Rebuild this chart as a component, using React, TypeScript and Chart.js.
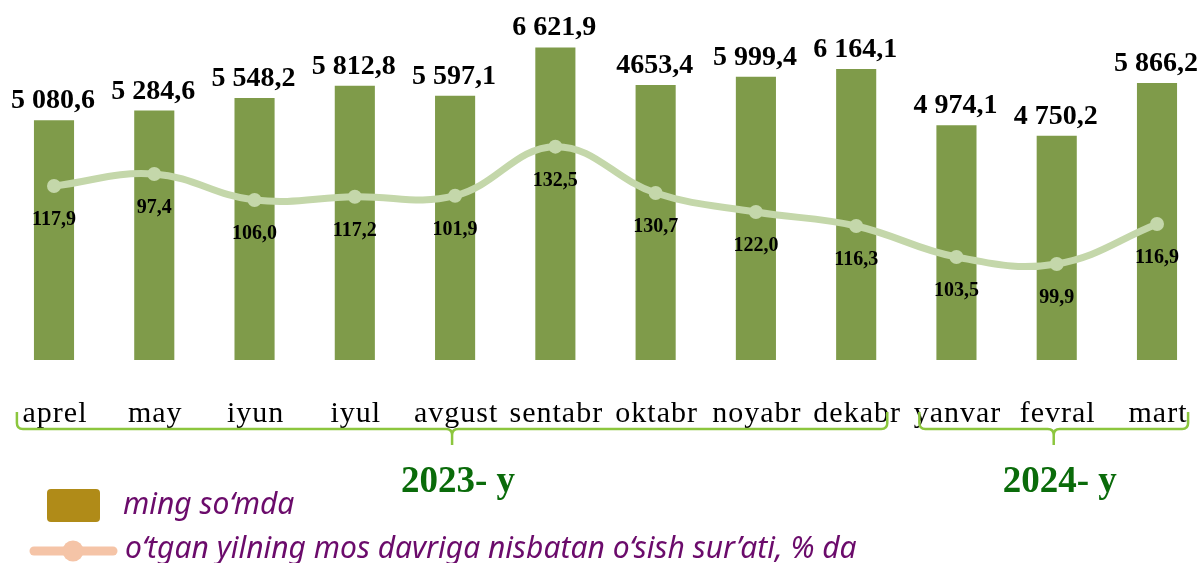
import React, { useEffect, useRef } from "react";
import { Chart, registerables } from "chart.js";

Chart.register(...registerables);

// ---- data ----
const months = ["aprel", "may", "iyun", "iyul", "avgust", "sentabr", "oktabr", "noyabr", "dekabr", "yanvar", "fevral", "mart"];
// bar heights as drawn (thousand so'm)
const revenue = [5080.6, 5284.6, 5548.2, 5812.8, 5597.1, 6621.9, 5825.0, 5999.4, 6164.1, 4974.1, 4750.2, 5866.2];
// bar data labels as printed
const revenueLabels = ["5 080,6", "5 284,6", "5 548,2", "5 812,8", "5 597,1", "6 621,9", "4653,4", "5 999,4", "6 164,1", "4 974,1", "4 750,2", "5 866,2"];
// growth line as drawn (secondary axis, %)
const growthLine = [108.1, 115.6, 99.4, 101.5, 102.1, 132.6, 103.8, 92.0, 83.3, 64.0, 59.7, 84.5];
// growth data labels as printed
const growthLabels = ["117,9", "97,4", "106,0", "117,2", "101,9", "132,5", "130,7", "122,0", "116,3", "103,5", "99,9", "116,9"];
const yearLabels = ["2023- y", "2024- y"];
const yearStart = [0, 9];
const yearEnd = [8, 11];
const legendLabels = ["ming so\u2018mda", "o\u2018tgan yilning mos davriga nisbatan o\u2018sish sur\u2019ati, % da"];

const BAR_COLOR = "#7f9b4a";
const LINE_COLOR = "#c4d7aa";
const BRACE_COLOR = "#8cc63e";
const YEAR_COLOR = "#0a6b0a";
const LEGEND_TEXT = "#6b0b6b";
const LEGEND_BAR = "#b08b18";
const LEGEND_LINE = "#f5c4a7";

const annotatePlugin = {
  id: "annotate",
  afterDatasetsDraw(chart: any) {
    const ctx: CanvasRenderingContext2D = chart.ctx;
    const lineMeta = chart.getDatasetMeta(0);
    const barMeta = chart.getDatasetMeta(1);
    const xScale = chart.scales.x;
    ctx.save();

    // bar value labels
    ctx.fillStyle = "#000";
    ctx.font = "bold 28px 'Liberation Serif'";
    ctx.textAlign = "center";
    ctx.textBaseline = "alphabetic";
    barMeta.data.forEach((el: any, i: number) => {
      ctx.fillText(revenueLabels[i], el.x - 1, el.y - 12);
    });

    // growth labels
    ctx.font = "bold 20px 'Liberation Serif'";
    ctx.textBaseline = "middle";
    lineMeta.data.forEach((el: any, i: number) => {
      ctx.fillText(growthLabels[i], el.x, el.y + 34);
    });

    // month labels
    ctx.font = "30px 'Liberation Serif'";
    ctx.textBaseline = "alphabetic";
    (ctx as any).letterSpacing = "1px";
    months.forEach((m, i) => {
      ctx.fillText(m, xScale.getPixelForValue(i) + 1, 422);
    });
    (ctx as any).letterSpacing = "0px";

    // braces + year labels
    const step = xScale.getPixelForValue(1) - xScale.getPixelForValue(0);
    const yLine = 429;
    const yTop = 412;
    const r = 6;
    yearLabels.forEach((lab, g) => {
      const L = xScale.getPixelForValue(yearStart[g]) - 0.37 * step;
      const R = xScale.getPixelForValue(yearEnd[g]) + 0.31 * step;
      const C = (L + R) / 2;
      ctx.strokeStyle = BRACE_COLOR;
      ctx.lineWidth = 2.5;
      ctx.beginPath();
      ctx.moveTo(L, yTop);
      ctx.lineTo(L, yLine - r);
      ctx.quadraticCurveTo(L, yLine, L + r, yLine);
      ctx.lineTo(C - r, yLine);
      ctx.quadraticCurveTo(C, yLine, C, yLine + r);
      ctx.lineTo(C, yLine + 16);
      ctx.moveTo(C, yLine + r);
      ctx.quadraticCurveTo(C, yLine, C + r, yLine);
      ctx.lineTo(R - r, yLine);
      ctx.quadraticCurveTo(R, yLine, R, yLine - r);
      ctx.lineTo(R, yTop);
      ctx.stroke();

      ctx.fillStyle = YEAR_COLOR;
      ctx.font = "bold 37px 'Liberation Serif'";
      ctx.textAlign = "center";
      ctx.fillText(lab, C + 6, 492);
    });

    // legend
    ctx.fillStyle = LEGEND_BAR;
    ctx.beginPath();
    (ctx as any).roundRect(47, 489, 53, 33, 4);
    ctx.fill();

    ctx.strokeStyle = LEGEND_LINE;
    ctx.lineWidth = 9;
    ctx.lineCap = "round";
    ctx.beginPath();
    ctx.moveTo(34, 551);
    ctx.lineTo(113, 551);
    ctx.stroke();
    ctx.fillStyle = LEGEND_LINE;
    ctx.beginPath();
    ctx.arc(73, 551, 10.5, 0, Math.PI * 2);
    ctx.fill();

    ctx.fillStyle = LEGEND_TEXT;
    ctx.font = "italic 30px 'Noto Sans'";
    ctx.textAlign = "left";
    ctx.fillText(legendLabels[0], 123, 514);
    ctx.fillText(legendLabels[1], 125, 558);

    ctx.restore();
  },
};

export default function App() {
  const canvasRef = useRef<HTMLCanvasElement | null>(null);

  useEffect(() => {
    if (!canvasRef.current) return;
    const chart = new Chart(canvasRef.current, {
      type: "bar",
      data: {
        labels: months,
        datasets: [
          {
            type: "line",
            label: legendLabels[1],
            data: growthLine,
            yAxisID: "y2",
            borderColor: LINE_COLOR,
            backgroundColor: LINE_COLOR,
            borderWidth: 7,
            pointRadius: 7,
            pointBackgroundColor: LINE_COLOR,
            pointBorderWidth: 0,
            tension: 0.4,
            order: 0,
            clip: false,
          } as any,
          {
            type: "bar",
            label: legendLabels[0],
            data: revenue,
            yAxisID: "y",
            backgroundColor: BAR_COLOR,
            barPercentage: 0.4,
            categoryPercentage: 1,
            order: 1,
            clip: false,
          } as any,
        ],
      },
      options: {
        animation: false,
        responsive: true,
        maintainAspectRatio: false,
        devicePixelRatio: 1,
        layout: { autoPadding: false, padding: { left: 54, right: 45, top: 6, bottom: 203 } } as any,
        scales: {
          x: { type: "category", offset: false, display: false, grid: { offset: false } } as any,
          y: { display: false, min: 0, max: 7500 },
          y2: { display: false, min: 0, max: 220, position: "right" },
        },
        plugins: {
          legend: { display: false },
          tooltip: { enabled: false },
        },
      },
      plugins: [annotatePlugin],
    });
    return () => chart.destroy();
  }, []);

  return (
    <div style={{ position: "absolute", left: 0, top: 0, width: "1202px", height: "563px", background: "#fff" }}>
      <canvas ref={canvasRef} />
    </div>
  );
}
